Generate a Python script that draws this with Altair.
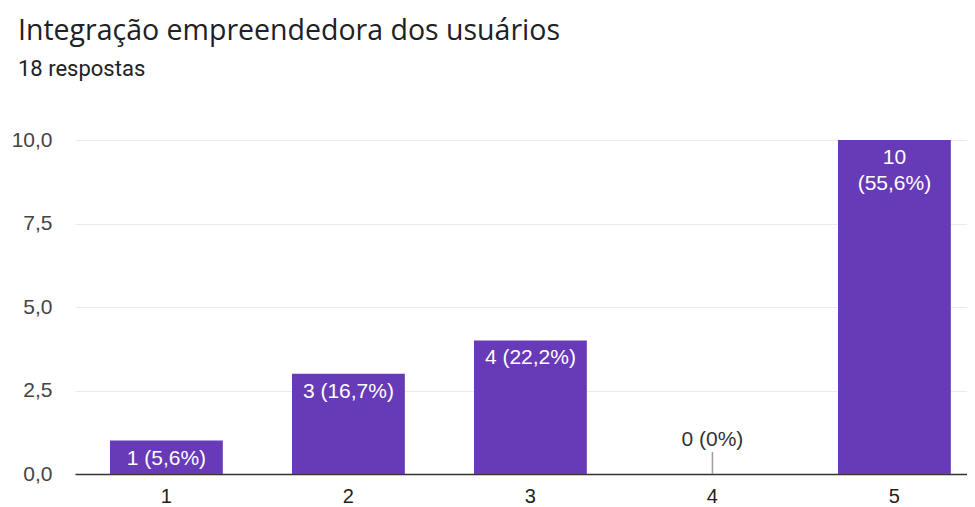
import altair as alt
import pandas as pd

categories = ["1", "2", "3", "4", "5"]
counts = [1, 3, 4, 0, 10]
labels = ["1 (5,6%)", "3 (16,7%)", "4 (22,2%)", "0 (0%)", "10\n(55,6%)"]
y_ticks = [0, 2.5, 5, 7.5, 10]

df = pd.DataFrame({"cat": categories, "count": counts, "label": labels})

x_enc = alt.X(
    "cat:N",
    sort=categories,
    scale=alt.Scale(paddingInner=0.38, paddingOuter=0.1405, align=0.684),
    axis=alt.Axis(
        title=None, labelAngle=0, labelFontSize=20, labelFont="Liberation Sans",
        labelColor="#222222", labelPadding=12, ticks=False, tickSize=0,
        domainColor="#333333", domainWidth=1.5, grid=False,
    ),
)
y_enc = alt.Y(
    "count:Q",
    scale=alt.Scale(domain=[0, 10], nice=False),
    axis=alt.Axis(
        title=None, values=y_ticks,
        labelExpr="replace(format(datum.value, '.1f'), '.', ',')",
        labelFontSize=21, labelFont="Liberation Sans", labelColor="#444444",
        labelPadding=23, ticks=False, tickSize=0, domain=False,
        gridColor="#ebebeb", gridWidth=1,
    ),
)

base = alt.Chart(df)

bars = base.mark_bar(color="#673ab7").encode(x=x_enc, y=y_enc)

inner = base.transform_filter("datum.count > 0").mark_text(
    baseline="top", dy=7, color="white", fontSize=21,
    font="Liberation Sans", lineBreak="\n", lineHeight=26,
).encode(x=alt.X("cat:N", sort=categories), y="count:Q", text="label:N")

zero_rule = base.transform_filter("datum.count == 0").mark_rule(
    color="#9e9e9e", strokeWidth=1.5
).encode(x=alt.X("cat:N", sort=categories), y="count:Q", y2=alt.value(312))

zero_text = base.transform_filter("datum.count == 0").mark_text(
    baseline="middle", dy=-34, color="#333333", fontSize=21,
    font="Liberation Sans",
).encode(x=alt.X("cat:N", sort=categories), y="count:Q", text="label:N")

chart = alt.layer(bars, zero_rule, inner, zero_text).properties(
    width=892,
    height=334,
    autosize=alt.AutoSizeParams(type="none"),
    padding={"left": 67, "top": 132, "right": 0, "bottom": 40},
    title=alt.TitleParams(
        text="Integração empreendedora dos usuários",
        subtitle="18 respostas",
        anchor="start",
        frame="group",
        dx=-57,
        offset=49,
        font="Open Sans",
        fontSize=28.5,
        fontWeight="normal",
        color="#202124",
        subtitleFont="Roboto",
        subtitleFontSize=22,
        subtitleColor="#202124",
        subtitlePadding=14,
    ),
).configure_view(stroke=None)

chart.save("out.html", embed_options={"renderer": "svg", "actions": False})
